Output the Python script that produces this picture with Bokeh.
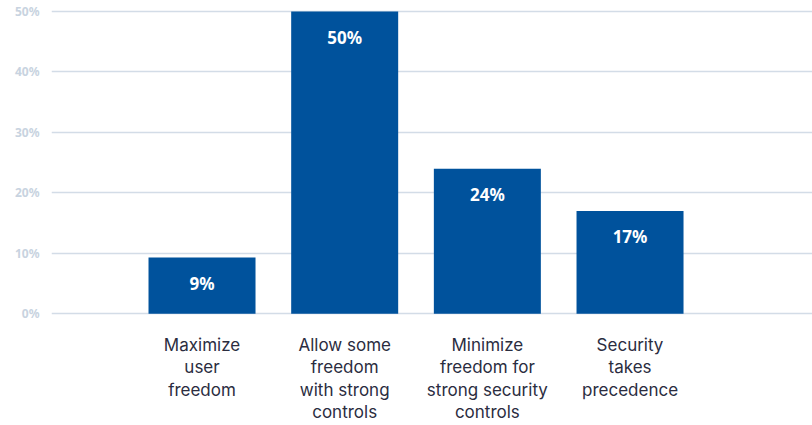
from bokeh.plotting import figure
from bokeh.models import Range1d, FixedTicker, ColumnDataSource
from bokeh.core.properties import value
from bokeh.embed import file_html
from bokeh.resources import INLINE

categories = ["Maximize\nuser\nfreedom",
              "Allow some\nfreedom\nwith strong\ncontrols",
              "Minimize\nfreedom for\nstrong security\ncontrols",
              "Security\ntakes\nprecedence"]
values = [9.3, 50, 24, 17]
labels = ["9%", "50%", "24%", "17%"]
y_ticks = [0, 10, 20, 30, 40, 50]
y_tick_labels = ["0%", "10%", "20%", "30%", "40%", "50%"]

xs = [i + 0.5 for i in range(len(categories))]
src = ColumnDataSource(dict(x=xs, top=values, label=labels))

p = figure(width=812, height=425, output_backend="svg", toolbar_location=None,
           x_range=Range1d(-0.555, 4.779), y_range=Range1d(-0.3, 51),
           min_border_left=51, min_border_right=0, min_border_top=5, min_border_bottom=105)
p.outline_line_color = None
p.background_fill_color = "white"
p.border_fill_color = "white"

p.vbar(x="x", top="top", bottom=0, width=0.75, source=src, fill_color="#00529c", line_color=None)
p.text(x="x", y="top", text="label", source=src, y_offset=26, text_align="center",
       text_baseline="middle", text_color="white", text_font=value("Noto Sans"),
       text_font_style="bold", text_font_size="17px")

p.xgrid.visible = False
p.ygrid.ticker = FixedTicker(ticks=y_ticks)
p.ygrid.grid_line_color = "#d3dce7"
p.ygrid.grid_line_width = 1.5

p.yaxis.ticker = FixedTicker(ticks=y_ticks)
p.yaxis.major_label_overrides = {t: l for t, l in zip(y_ticks, y_tick_labels)}
p.yaxis.axis_line_color = None
p.yaxis.major_tick_line_color = None
p.yaxis.minor_tick_line_color = None
p.yaxis.major_tick_out = 0
p.yaxis.major_label_standoff = 12
p.yaxis.major_label_text_color = "#c8d3e0"
p.yaxis.major_label_text_font = "Noto Sans"
p.yaxis.major_label_text_font_style = "bold"
p.yaxis.major_label_text_font_size = "12px"

p.xaxis.ticker = FixedTicker(ticks=xs)
p.xaxis.major_label_overrides = {x: c for x, c in zip(xs, categories)}
p.xaxis.axis_line_color = None
p.xaxis.major_tick_line_color = None
p.xaxis.minor_tick_line_color = None
p.xaxis.major_tick_out = 0
p.xaxis.major_label_standoff = 19
p.xaxis.major_label_text_line_height = 1.13
p.xaxis.major_label_text_color = "#2b2d3f"
p.xaxis.major_label_text_font = "Inter"
p.xaxis.major_label_text_font_size = "17px"

open("out.html", "w").write(file_html(p, INLINE))
